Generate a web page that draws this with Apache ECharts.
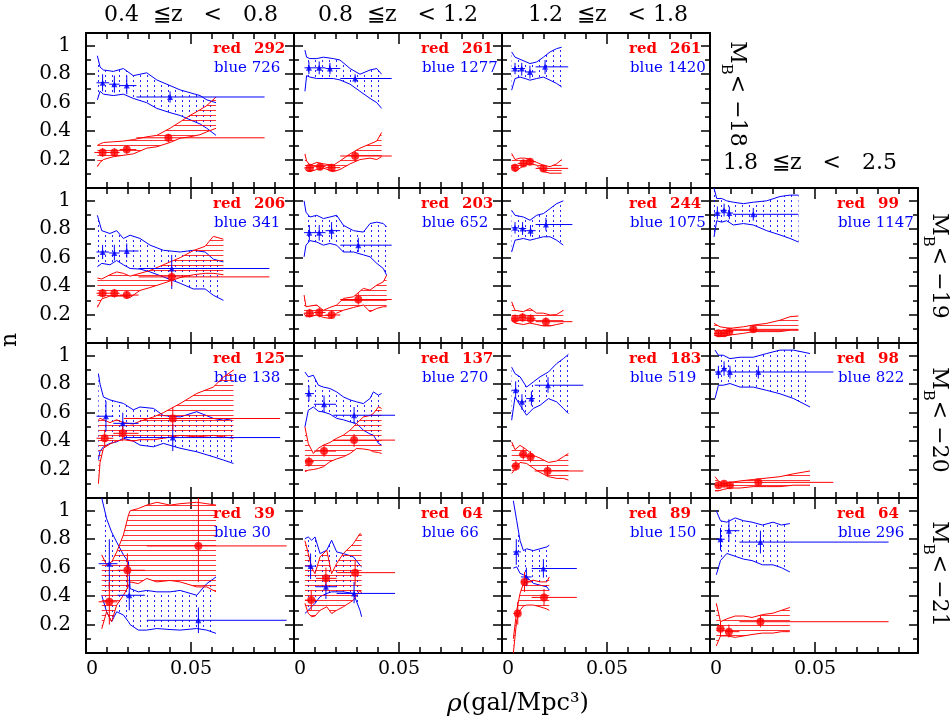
<!DOCTYPE html>
<html><head><meta charset="utf-8">
<script src="https://cdn.jsdelivr.net/npm/echarts@6/dist/echarts.min.js"></script>
<style>html,body{margin:0;padding:0;background:#fff}#c{width:950px;height:718px}</style>
</head><body><div id="c"></div>
<script>
// ---------------- labels ----------------
const Z_LABELS = ['0.4  \u2266z   <   0.8', '0.8  \u2266z   < 1.2', '1.2  \u2266z   < 1.8', '1.8  \u2266z   <   2.5'];
const MAG_LABELS = ['\u221218', '\u221219', '\u221220', '\u221221'];
const X_TICK_LABELS = ['0', '0.05'];
const RED_COUNTS  = [[292, 261, 261, null], [206, 203, 244, 99], [125, 137, 183, 98], [39, 64, 89, 64]];
const BLUE_COUNTS = [[726, 1277, 1420, null], [341, 652, 1075, 1147], [138, 270, 519, 822], [30, 66, 150, 296]];

// ---------------- bands: [x, lower, upper] ----------------
const BLUE_BAND_R1C1 = [[0.0054,0.62,0.93],[0.0067,0.68,0.85],[0.0083,0.66,0.83],[0.0130,0.65,0.82],[0.0178,0.66,0.84],[0.0225,0.63,0.79],[0.0289,0.60,0.81],[0.0337,0.56,0.76],[0.0400,0.53,0.72],[0.0448,0.51,0.69],[0.0495,0.48,0.67],[0.0543,0.45,0.65],[0.0575,0.42,0.62],[0.0619,0.37,0.60]];
const RED_BAND_R1C1  = [[0.0054,0.15,0.30],[0.0067,0.18,0.31],[0.0083,0.20,0.32],[0.0130,0.22,0.325],[0.0178,0.23,0.33],[0.0225,0.24,0.34],[0.0289,0.28,0.36],[0.0337,0.29,0.37],[0.0400,0.32,0.42],[0.0448,0.35,0.465],[0.0495,0.36,0.51],[0.0543,0.375,0.55],[0.0575,0.395,0.58],[0.0619,0.42,0.64]];
const BLUE_BAND_R1C2 = [[0.0052,0.68,0.97],[0.0060,0.79,0.92],[0.0076,0.78,0.91],[0.0108,0.77,0.91],[0.0140,0.77,0.92],[0.0187,0.77,0.91],[0.0219,0.76,0.90],[0.0267,0.73,0.84],[0.0314,0.68,0.80],[0.0362,0.63,0.83],[0.0394,0.60,0.84],[0.0417,0.56,0.80]];
const RED_BAND_R1C2  = [[0.0052,0.14,0.24],[0.0060,0.12,0.19],[0.0076,0.115,0.16],[0.0108,0.13,0.18],[0.0140,0.14,0.17],[0.0187,0.115,0.16],[0.0219,0.13,0.19],[0.0267,0.17,0.24],[0.0314,0.20,0.28],[0.0362,0.21,0.31],[0.0394,0.20,0.33],[0.0417,0.22,0.39]];
const BLUE_BAND_R1C3 = [[0.0046,0.688,0.957],[0.0062,0.77,0.92],[0.0086,0.78,0.905],[0.0110,0.77,0.89],[0.0133,0.758,0.875],[0.0165,0.77,0.886],[0.0197,0.78,0.92],[0.0229,0.758,0.957],[0.0260,0.735,0.98],[0.0284,0.711,0.99]];
const RED_BAND_R1C3  = [[0.0046,0.16,0.243],[0.0062,0.115,0.20],[0.0086,0.14,0.21],[0.0110,0.16,0.21],[0.0133,0.172,0.20],[0.0165,0.16,0.18],[0.0197,0.115,0.16],[0.0229,0.104,0.15],[0.0260,0.104,0.17],[0.0284,0.104,0.20]];

const BLUE_BAND_R2C1 = [[0.0054,0.536,0.898],[0.0075,0.56,0.79],[0.0114,0.55,0.77],[0.0146,0.58,0.79],[0.0178,0.55,0.735],[0.0210,0.524,0.758],[0.0257,0.52,0.735],[0.0305,0.50,0.688],[0.0368,0.465,0.652],[0.0448,0.42,0.64],[0.0511,0.38,0.652],[0.0567,0.38,0.64],[0.0606,0.336,0.59],[0.0654,0.30,0.57]];
const RED_BAND_R2C1  = [[0.0054,0.25,0.457],[0.0075,0.31,0.45],[0.0114,0.33,0.48],[0.0146,0.33,0.50],[0.0178,0.33,0.49],[0.0210,0.32,0.47],[0.0257,0.37,0.49],[0.0305,0.39,0.51],[0.0368,0.42,0.55],[0.0448,0.46,0.60],[0.0511,0.48,0.65],[0.0567,0.49,0.68],[0.0606,0.49,0.75],[0.0654,0.48,0.73]];
const BLUE_BAND_R2C2 = [[0.0048,0.606,1.0],[0.0057,0.688,0.92],[0.0076,0.72,0.886],[0.0108,0.71,0.898],[0.0140,0.688,0.875],[0.0171,0.70,0.886],[0.0203,0.688,0.898],[0.0235,0.64,0.828],[0.0283,0.64,0.79],[0.0330,0.62,0.78],[0.0362,0.606,0.84],[0.0394,0.56,0.85],[0.0425,0.524,0.84],[0.0441,0.477,0.816]];
const RED_BAND_R2C2  = [[0.0048,0.21,0.337],[0.0057,0.185,0.255],[0.0076,0.185,0.26],[0.0108,0.197,0.267],[0.0140,0.18,0.23],[0.0171,0.173,0.25],[0.0203,0.21,0.267],[0.0235,0.23,0.313],[0.0283,0.25,0.325],[0.0330,0.267,0.384],[0.0362,0.22,0.372],[0.0394,0.243,0.407],[0.0425,0.255,0.43],[0.0441,0.255,0.477]];
const BLUE_BAND_R2C3 = [[0.0046,0.64,0.933],[0.0062,0.723,0.898],[0.0102,0.735,0.886],[0.0133,0.723,0.863],[0.0165,0.735,0.898],[0.0197,0.747,0.91],[0.0229,0.747,0.945],[0.0260,0.723,0.98],[0.0292,0.688,1.0]];
const RED_BAND_R2C3  = [[0.0046,0.16,0.29],[0.0062,0.14,0.23],[0.0102,0.13,0.22],[0.0133,0.14,0.243],[0.0165,0.13,0.21],[0.0197,0.12,0.21],[0.0229,0.12,0.197],[0.0260,0.13,0.20],[0.0292,0.14,0.23]];
const BLUE_BAND_R2C4 = [[0.0019,0.746,1.09],[0.0032,0.86,1.016],[0.0056,0.85,1.016],[0.0079,0.86,1.0],[0.0111,0.83,0.99],[0.0159,0.84,0.98],[0.0206,0.83,0.99],[0.0270,0.79,1.0],[0.0333,0.76,1.03],[0.0381,0.735,1.04],[0.0421,0.71,1.04]];
const RED_BAND_R2C4  = [[0.0019,0.056,0.138],[0.0048,0.044,0.114],[0.0095,0.056,0.103],[0.0159,0.068,0.114],[0.0206,0.08,0.126],[0.0270,0.08,0.138],[0.0333,0.08,0.16],[0.0381,0.09,0.185],[0.0421,0.09,0.19]];

const BLUE_BAND_R3C1 = [[0.0059,0.27,0.875],[0.0067,0.33,0.80],[0.0083,0.36,0.71],[0.0114,0.384,0.69],[0.0146,0.395,0.677],[0.0178,0.42,0.665],[0.0225,0.40,0.62],[0.0257,0.372,0.64],[0.0321,0.36,0.63],[0.0368,0.384,0.58],[0.0448,0.35,0.57],[0.0527,0.325,0.607],[0.0606,0.29,0.56],[0.0654,0.267,0.547],[0.0702,0.243,0.56]];
const RED_BAND_R3C1  = [[0.0059,0.10,0.55],[0.0067,0.25,0.56],[0.0083,0.35,0.55],[0.0114,0.38,0.53],[0.0146,0.40,0.55],[0.0178,0.41,0.53],[0.0225,0.40,0.52],[0.0257,0.41,0.54],[0.0321,0.41,0.57],[0.0368,0.42,0.60],[0.0448,0.44,0.664],[0.0527,0.43,0.735],[0.0606,0.44,0.78],[0.0654,0.43,0.85],[0.0702,0.42,0.90]];
const BLUE_BAND_R3C2 = [[0.0052,0.50,0.886],[0.0068,0.617,0.852],[0.0092,0.64,0.863],[0.0116,0.61,0.793],[0.0140,0.605,0.78],[0.0171,0.59,0.77],[0.0203,0.56,0.746],[0.0235,0.55,0.711],[0.0267,0.535,0.69],[0.0298,0.524,0.676],[0.0330,0.477,0.664],[0.0362,0.45,0.70],[0.0378,0.442,0.746],[0.0402,0.384,0.723],[0.0417,0.372,0.735]];
const RED_BAND_R3C2  = [[0.0052,0.185,0.50],[0.0068,0.196,0.383],[0.0092,0.20,0.313],[0.0116,0.208,0.35],[0.0140,0.22,0.372],[0.0171,0.255,0.39],[0.0203,0.275,0.42],[0.0235,0.29,0.442],[0.0267,0.313,0.477],[0.0298,0.348,0.524],[0.0330,0.345,0.57],[0.0362,0.337,0.58],[0.0378,0.325,0.594],[0.0402,0.32,0.641],[0.0417,0.313,0.63]];
const BLUE_BAND_R3C3 = [[0.0046,0.547,0.92],[0.0062,0.711,0.874],[0.0086,0.652,0.852],[0.0117,0.582,0.78],[0.0149,0.63,0.816],[0.0181,0.652,0.852],[0.0221,0.699,0.886],[0.0260,0.676,0.945],[0.0292,0.63,0.98],[0.0316,0.594,1.01]];
const RED_BAND_R3C3  = [[0.0046,0.173,0.395],[0.0062,0.20,0.34],[0.0086,0.25,0.37],[0.0117,0.243,0.34],[0.0149,0.21,0.30],[0.0181,0.18,0.28],[0.0221,0.15,0.25],[0.0260,0.138,0.26],[0.0292,0.138,0.29],[0.0316,0.126,0.313]];
const BLUE_BAND_R3C4 = [[0.0024,0.70,1.04],[0.0040,0.793,1.004],[0.0063,0.793,1.004],[0.0095,0.805,0.98],[0.0143,0.78,0.99],[0.0206,0.78,0.99],[0.0270,0.757,1.016],[0.0333,0.733,1.04],[0.0397,0.70,1.04],[0.0476,0.64,1.016]];
const RED_BAND_R3C4  = [[0.0024,0.05,0.15],[0.0040,0.05,0.12],[0.0063,0.06,0.10],[0.0095,0.07,0.11],[0.0143,0.07,0.12],[0.0206,0.08,0.13],[0.0270,0.08,0.14],[0.0333,0.08,0.15],[0.0397,0.09,0.17],[0.0476,0.09,0.19]];

const BLUE_BAND_R4C1 = [[0.0075,0.406,1.09],[0.0098,0.29,0.945],[0.0122,0.22,0.85],[0.0146,0.29,0.78],[0.0178,0.267,0.69],[0.0202,0.22,0.64],[0.0210,0.20,0.453],[0.0249,0.161,0.43],[0.0289,0.161,0.44],[0.0337,0.172,0.43],[0.0400,0.165,0.43],[0.0448,0.161,0.44],[0.0527,0.172,0.406],[0.0575,0.161,0.488],[0.0619,0.138,0.535]];
const RED_BAND_R4C1  = [[0.0075,0.17,0.69],[0.0098,0.29,0.62],[0.0122,0.22,0.64],[0.0146,0.337,0.71],[0.0178,0.406,0.83],[0.0202,0.47,0.97],[0.0210,0.50,1.0],[0.0249,0.488,1.016],[0.0289,0.524,1.04],[0.0337,0.50,1.06],[0.0400,0.51,1.04],[0.0448,0.50,1.05],[0.0527,0.465,1.06],[0.0575,0.465,1.05],[0.0619,0.43,1.04]];
const BLUE_BAND_R4C2 = [[0.0052,0.278,0.804],[0.0068,0.30,0.816],[0.0084,0.325,0.793],[0.0100,0.349,0.816],[0.0124,0.396,0.699],[0.0156,0.419,0.723],[0.0179,0.43,0.793],[0.0203,0.43,0.711],[0.0235,0.43,0.699],[0.0283,0.419,0.676],[0.0314,0.30,0.617],[0.0322,0.255,0.606]];
const RED_BAND_R4C2  = [[0.0052,0.349,0.79],[0.0068,0.278,0.70],[0.0084,0.255,0.60],[0.0100,0.26,0.558],[0.0124,0.30,0.676],[0.0156,0.325,0.723],[0.0179,0.278,0.558],[0.0203,0.30,0.629],[0.0235,0.325,0.70],[0.0283,0.372,0.77],[0.0314,0.442,0.84],[0.0322,0.419,0.83]];
const BLUE_BAND_R4C3 = [[0.0054,0.597,1.07],[0.0070,0.606,0.93],[0.0086,0.56,0.79],[0.0102,0.55,0.72],[0.0117,0.535,0.733],[0.0149,0.49,0.72],[0.0181,0.477,0.733],[0.0213,0.465,0.746],[0.0225,0.442,0.758]];
const RED_BAND_R4C3  = [[0.0054,0.0,0.10],[0.0070,0.23,0.30],[0.0086,0.30,0.419],[0.0102,0.33,0.49],[0.0117,0.337,0.50],[0.0149,0.337,0.512],[0.0181,0.325,0.50],[0.0213,0.31,0.50],[0.0225,0.30,0.535]];
const BLUE_BAND_R4C4 = [[0.0030,0.55,1.0],[0.0050,0.65,0.93],[0.0080,0.70,0.92],[0.0120,0.68,0.95],[0.0160,0.66,0.93],[0.0200,0.65,0.92],[0.0250,0.62,0.90],[0.0300,0.62,0.92],[0.0340,0.60,0.90],[0.0380,0.57,0.91]];
const RED_BAND_R4C4  = [[0.0030,0.05,0.35],[0.0050,0.12,0.22],[0.0080,0.12,0.24],[0.0120,0.11,0.26],[0.0160,0.12,0.26],[0.0200,0.13,0.25],[0.0250,0.14,0.27],[0.0300,0.14,0.28],[0.0340,0.15,0.30],[0.0380,0.15,0.32]];

// ---------------- points: [x, y, xlo, xhi, ylo, yhi] ----------------
const BLUE_PTS_R1C1 = [[0.0079,0.74,0.005,0.011,0.68,0.80],[0.0135,0.73,0.011,0.016,0.67,0.79],[0.0194,0.72,0.016,0.024,0.66,0.79],[0.0400,0.64,0.024,0.085,0.60,0.68]];
const RED_PTS_R1C1  = [[0.0079,0.25,0.004,0.011,0.22,0.28],[0.0135,0.25,0.011,0.016,0.22,0.28],[0.0194,0.27,0.016,0.024,0.24,0.30],[0.0392,0.353,0.024,0.085,0.32,0.38]];
const BLUE_PTS_R1C2 = [[0.0071,0.845,0.005,0.0095,0.80,0.89],[0.0120,0.845,0.0095,0.015,0.80,0.89],[0.0171,0.84,0.015,0.022,0.80,0.88],[0.0291,0.77,0.022,0.0465,0.74,0.80]];
const RED_PTS_R1C2  = [[0.0076,0.143,0.005,0.0095,0.12,0.17],[0.0124,0.15,0.0095,0.015,0.125,0.175],[0.0179,0.143,0.015,0.022,0.12,0.17],[0.0291,0.225,0.022,0.0465,0.19,0.26]];
const BLUE_PTS_R1C3 = [[0.0062,0.84,0.0046,0.0075,0.80,0.88],[0.0094,0.84,0.0075,0.011,0.79,0.88],[0.0133,0.816,0.011,0.016,0.77,0.86],[0.0205,0.852,0.016,0.0315,0.80,0.90]];
const RED_PTS_R1C3  = [[0.0062,0.143,0.0046,0.0075,0.12,0.17],[0.0102,0.172,0.0075,0.012,0.15,0.20],[0.0133,0.185,0.012,0.016,0.16,0.21],[0.0197,0.138,0.016,0.0315,0.115,0.16]];
const BLUE_PTS_R2C1 = [[0.0079,0.64,0.005,0.011,0.59,0.69],[0.0135,0.633,0.011,0.016,0.58,0.69],[0.0194,0.647,0.016,0.025,0.60,0.70],[0.0408,0.524,0.025,0.0873,0.38,0.62]];
const RED_PTS_R2C1  = [[0.0079,0.35,0.005,0.011,0.32,0.38],[0.0135,0.35,0.011,0.016,0.32,0.38],[0.0194,0.337,0.016,0.025,0.31,0.37],[0.0408,0.465,0.025,0.0873,0.40,0.53]];
const BLUE_PTS_R2C2 = [[0.0073,0.776,0.0048,0.0095,0.72,0.83],[0.0120,0.776,0.0095,0.015,0.72,0.83],[0.0179,0.79,0.015,0.022,0.73,0.85],[0.0306,0.688,0.022,0.0465,0.64,0.74]];
const RED_PTS_R2C2  = [[0.0075,0.21,0.0048,0.0095,0.18,0.24],[0.0120,0.215,0.0095,0.015,0.18,0.25],[0.0179,0.197,0.015,0.022,0.17,0.23],[0.0306,0.306,0.022,0.0465,0.27,0.35]];
const BLUE_PTS_R2C3 = [[0.0062,0.81,0.0046,0.008,0.77,0.85],[0.0098,0.805,0.008,0.0115,0.76,0.85],[0.0136,0.79,0.0115,0.016,0.75,0.83],[0.0209,0.833,0.016,0.0335,0.79,0.88]];
const RED_PTS_R2C3  = [[0.0062,0.17,0.0046,0.008,0.14,0.20],[0.0098,0.18,0.008,0.0115,0.15,0.21],[0.0136,0.17,0.0115,0.016,0.14,0.20],[0.0209,0.15,0.016,0.0335,0.12,0.18]];
const BLUE_PTS_R2C4 = [[0.0035,0.914,0.0019,0.005,0.87,0.96],[0.0067,0.933,0.005,0.008,0.89,0.98],[0.0092,0.914,0.008,0.011,0.87,0.96],[0.0206,0.905,0.011,0.0421,0.86,0.95]];
const RED_PTS_R2C4  = [[0.0040,0.068,0.0019,0.005,0.05,0.09],[0.0067,0.068,0.005,0.008,0.05,0.09],[0.0092,0.08,0.008,0.011,0.06,0.10],[0.0206,0.096,0.011,0.0421,0.075,0.12]];
const BLUE_PTS_R3C1 = [[0.0095,0.575,0.005,0.013,0.47,0.68],[0.0175,0.525,0.013,0.025,0.45,0.60],[0.0413,0.425,0.018,0.0924,0.33,0.52]];
const RED_PTS_R3C1  = [[0.0089,0.42,0.005,0.013,0.36,0.48],[0.0175,0.455,0.013,0.025,0.40,0.51],[0.0413,0.559,0.018,0.0924,0.48,0.64]];
const BLUE_PTS_R3C2 = [[0.0071,0.734,0.0052,0.0095,0.68,0.79],[0.0143,0.659,0.0095,0.020,0.60,0.72],[0.0286,0.582,0.0187,0.0481,0.52,0.64]];
const RED_PTS_R3C2  = [[0.0071,0.255,0.0052,0.0095,0.22,0.29],[0.0143,0.33,0.0095,0.020,0.29,0.37],[0.0286,0.407,0.0187,0.0481,0.36,0.45]];
const BLUE_PTS_R3C3 = [[0.0065,0.758,0.0046,0.008,0.70,0.82],[0.0095,0.676,0.008,0.0115,0.62,0.73],[0.0140,0.699,0.0115,0.0156,0.65,0.75],[0.0219,0.793,0.0156,0.0387,0.74,0.85]];
const RED_PTS_R3C3  = [[0.0066,0.224,0.0046,0.008,0.19,0.26],[0.0101,0.308,0.008,0.0115,0.27,0.35],[0.0136,0.29,0.0115,0.0156,0.25,0.33],[0.0217,0.19,0.0156,0.0387,0.15,0.23]];
const BLUE_PTS_R3C4 = [[0.0040,0.886,0.0024,0.0055,0.84,0.93],[0.0067,0.91,0.0055,0.008,0.86,0.96],[0.0095,0.886,0.008,0.011,0.84,0.93],[0.0230,0.886,0.011,0.0587,0.84,0.93]];
const RED_PTS_R3C4  = [[0.0040,0.09,0.0024,0.0055,0.07,0.11],[0.0067,0.10,0.0055,0.008,0.08,0.12],[0.0095,0.09,0.008,0.011,0.07,0.11],[0.0230,0.11,0.011,0.0587,0.09,0.13]];
const BLUE_PTS_R4C1 = [[0.0111,0.628,0.006,0.015,0.45,0.80],[0.0206,0.406,0.015,0.028,0.30,0.52],[0.0535,0.23,0.0289,0.0955,0.14,0.32]];
const RED_PTS_R4C1  = [[0.0111,0.36,0.006,0.015,0.20,0.50],[0.0197,0.582,0.015,0.028,0.45,0.70],[0.0535,0.753,0.0289,0.0955,0.50,1.09]];
const BLUE_PTS_R4C2 = [[0.0079,0.611,0.0052,0.0105,0.52,0.70],[0.0152,0.466,0.0105,0.0203,0.38,0.55],[0.0286,0.419,0.0203,0.0481,0.35,0.50]];
const RED_PTS_R4C2  = [[0.0082,0.372,0.0052,0.0105,0.30,0.44],[0.0152,0.525,0.0105,0.0203,0.45,0.60],[0.0291,0.565,0.0203,0.0481,0.48,0.65]];
const BLUE_PTS_R4C3 = [[0.0068,0.711,0.0054,0.009,0.62,0.80],[0.0116,0.535,0.009,0.0141,0.47,0.60],[0.0197,0.594,0.0141,0.0356,0.53,0.66]];
const RED_PTS_R4C3  = [[0.0075,0.278,0.0054,0.009,0.20,0.36],[0.0107,0.50,0.009,0.0141,0.43,0.57],[0.0200,0.391,0.0141,0.0356,0.33,0.45]];
const BLUE_PTS_R4C4 = [[0.0050,0.80,0.003,0.007,0.72,0.88],[0.0090,0.86,0.007,0.014,0.78,0.94],[0.0240,0.78,0.014,0.085,0.70,0.86]];
const RED_PTS_R4C4  = [[0.0050,0.17,0.003,0.007,0.12,0.22],[0.0090,0.15,0.007,0.014,0.11,0.20],[0.0240,0.22,0.014,0.085,0.18,0.26]];

const PANEL_DATA = {
  R1C1:[BLUE_BAND_R1C1,RED_BAND_R1C1,BLUE_PTS_R1C1,RED_PTS_R1C1],
  R1C2:[BLUE_BAND_R1C2,RED_BAND_R1C2,BLUE_PTS_R1C2,RED_PTS_R1C2],
  R1C3:[BLUE_BAND_R1C3,RED_BAND_R1C3,BLUE_PTS_R1C3,RED_PTS_R1C3],
  R2C1:[BLUE_BAND_R2C1,RED_BAND_R2C1,BLUE_PTS_R2C1,RED_PTS_R2C1],
  R2C2:[BLUE_BAND_R2C2,RED_BAND_R2C2,BLUE_PTS_R2C2,RED_PTS_R2C2],
  R2C3:[BLUE_BAND_R2C3,RED_BAND_R2C3,BLUE_PTS_R2C3,RED_PTS_R2C3],
  R2C4:[BLUE_BAND_R2C4,RED_BAND_R2C4,BLUE_PTS_R2C4,RED_PTS_R2C4],
  R3C1:[BLUE_BAND_R3C1,RED_BAND_R3C1,BLUE_PTS_R3C1,RED_PTS_R3C1],
  R3C2:[BLUE_BAND_R3C2,RED_BAND_R3C2,BLUE_PTS_R3C2,RED_PTS_R3C2],
  R3C3:[BLUE_BAND_R3C3,RED_BAND_R3C3,BLUE_PTS_R3C3,RED_PTS_R3C3],
  R3C4:[BLUE_BAND_R3C4,RED_BAND_R3C4,BLUE_PTS_R3C4,RED_PTS_R3C4],
  R4C1:[BLUE_BAND_R4C1,RED_BAND_R4C1,BLUE_PTS_R4C1,RED_PTS_R4C1],
  R4C2:[BLUE_BAND_R4C2,RED_BAND_R4C2,BLUE_PTS_R4C2,RED_PTS_R4C2],
  R4C3:[BLUE_BAND_R4C3,RED_BAND_R4C3,BLUE_PTS_R4C3,RED_PTS_R4C3],
  R4C4:[BLUE_BAND_R4C4,RED_BAND_R4C4,BLUE_PTS_R4C4,RED_PTS_R4C4]
};

// ---------------- layout ----------------
const COL_LEFT = [86, 294, 502, 710], ROW_TOP = [33, 188, 343, 498], PW = 208, PH = 155;
const XMAX = 0.099, YMAX = 1.09;
const FONT = 'DejaVu Serif';
const RED = '#ff0000', BLUE = '#0000ff';

function makePattern(kind) {
  const cv = document.createElement('canvas');
  const g = cv.getContext('2d');
  if (kind === 'red') { cv.width = 6; cv.height = 5; g.fillStyle = 'rgba(255,0,0,0.8)'; g.fillRect(0, 0, 6, 1); }
  else { cv.width = 7; cv.height = 5; g.fillStyle = 'rgba(0,0,255,0.85)'; g.fillRect(0, 0, 1, 2); }
  return { image: cv, repeat: 'repeat' };
}
const RED_FILL = makePattern('red'), BLUE_FILL = makePattern('blue');

const grids = [], xAxes = [], yAxes = [], series = [], graphics = [];
function tickAxis(kind, gi, pos, major, showLabel) {
  const isX = kind === 'x';
  const a = {
    type: 'value', gridIndex: gi, min: 0, max: isX ? XMAX : YMAX, position: pos,
    interval: isX ? (major ? 0.05 : 0.01) : (major ? 0.2 : 0.1),
    splitLine: { show: false },
    axisLine: { show: major, onZero: false, lineStyle: { color: '#000', width: 2 } },
    axisTick: { show: true, inside: true, length: major ? (isX ? 11 : 9) : (isX ? 6 : 5), lineStyle: { color: '#000', width: 1.5 } },
    axisLabel: { show: false }
  };
  if (showLabel) {
    a.axisLabel = isX ? {
      show: true, color: '#000', fontFamily: FONT, fontSize: 19, margin: 7,
      showMaxLabel: false, alignMinLabel: 'left',
      formatter: v => (v === 0 ? X_TICK_LABELS[0] : (Math.abs(v - 0.05) < 1e-9 ? X_TICK_LABELS[1] : ''))
    } : {
      show: true, color: '#000', fontFamily: FONT, fontSize: 20, margin: 15,
      showMaxLabel: false, showMinLabel: false,
      formatter: v => (v === 0 ? '' : (Math.abs(v - 1) < 1e-9 ? '1' : v.toFixed(1)))
    };
  }
  return a;
}

let gi = 0;
for (let r = 0; r < 4; r++) {
  for (let c = 0; c < 4; c++) {
    const key = 'R' + (r + 1) + 'C' + (c + 1);
    if (!PANEL_DATA[key]) continue;
    grids.push({ left: COL_LEFT[c], top: ROW_TOP[r], width: PW, height: PH, containLabel: false });
    const xi = xAxes.length, yi = yAxes.length;
    xAxes.push(tickAxis('x', gi, 'bottom', true, r === 3), tickAxis('x', gi, 'bottom', false, false),
               tickAxis('x', gi, 'top', true, false), tickAxis('x', gi, 'top', false, false));
    yAxes.push(tickAxis('y', gi, 'left', true, c === 0), tickAxis('y', gi, 'left', false, false),
               tickAxis('y', gi, 'right', true, false), tickAxis('y', gi, 'right', false, false));
    const [bBand, rBand, bPts, rPts] = PANEL_DATA[key];
    const bandSeries = (band, fill, color) => ({
      type: 'custom', xAxisIndex: xi, yAxisIndex: yi, silent: true, animation: false,
      data: [[band[0][0], band[0][1]]],
      renderItem: (p, api) => {
        const up = band.map(d => api.coord([d[0], d[2]]));
        const lo = band.map(d => api.coord([d[0], d[1]]));
        const poly = up.concat(lo.slice().reverse());
        return { type: 'group', children: [
          { type: 'polygon', shape: { points: poly }, style: { fill: fill, stroke: null } },
          { type: 'polyline', shape: { points: up }, style: { stroke: color, lineWidth: 1, fill: null } },
          { type: 'polyline', shape: { points: lo }, style: { stroke: color, lineWidth: 1, fill: null } }
        ] };
      }
    });
    const errSeries = (pts, color) => ({
      type: 'custom', xAxisIndex: xi, yAxisIndex: yi, silent: true, animation: false,
      data: pts, encode: { x: 0, y: 1 },
      renderItem: (p, api) => {
        const x = api.value(0), y = api.value(1);
        const a = api.coord([api.value(2), y]), b = api.coord([api.value(3), y]);
        const cc = api.coord([x, api.value(4)]), d = api.coord([x, api.value(5)]);
        return { type: 'group', children: [
          { type: 'line', shape: { x1: a[0], y1: a[1], x2: b[0], y2: b[1] }, style: { stroke: color, lineWidth: 1 } },
          { type: 'line', shape: { x1: cc[0], y1: cc[1], x2: d[0], y2: d[1] }, style: { stroke: color, lineWidth: 1 } }
        ] };
      }
    });
    series.push(bandSeries(bBand, BLUE_FILL, BLUE), bandSeries(rBand, RED_FILL, RED));
    series.push(errSeries(bPts, BLUE), errSeries(rPts, RED));
    series.push({ type: 'scatter', xAxisIndex: xi, yAxisIndex: yi, silent: true, animation: false,
      symbol: 'triangle', symbolSize: 6, itemStyle: { color: BLUE }, data: bPts.map(p => [p[0], p[1]]) });
    series.push({ type: 'scatter', xAxisIndex: xi, yAxisIndex: yi, silent: true, animation: false,
      symbol: 'circle', symbolSize: 8, itemStyle: { color: RED }, data: rPts.map(p => [p[0], p[1]]) });
    const L = COL_LEFT[c], T = ROW_TOP[r];
    graphics.push({ type: 'text', x: L + 127, y: T + 16, style: { text: 'red', fill: RED, font: 'bold 15px ' + FONT, textVerticalAlign: 'middle' } });
    graphics.push({ type: 'text', x: L + 168, y: T + 16, style: { text: String(RED_COUNTS[r][c]), fill: RED, font: 'bold 15px ' + FONT, textVerticalAlign: 'middle' } });
    graphics.push({ type: 'text', x: L + 128, y: T + 35, style: { text: 'blue ' + BLUE_COUNTS[r][c], fill: BLUE, font: '15px ' + FONT, textVerticalAlign: 'middle' } });
    gi++;
  }
}

// column titles
const TITLE_POS = [[191, 15], [398, 15], [608, 15], [810, 163]];
Z_LABELS.forEach((t, i) => graphics.push({ type: 'text', x: TITLE_POS[i][0], y: TITLE_POS[i][1],
  style: { text: t, fill: '#000', font: '22px ' + FONT, textAlign: 'center', textVerticalAlign: 'middle' } }));
// row labels (rotated, reading downward, with subscript B)
const ROW_LABEL_POS = [[733, 94], [935, 266], [935, 420], [935, 574]];
MAG_LABELS.forEach((t, i) => graphics.push({ type: 'text', x: ROW_LABEL_POS[i][0], y: ROW_LABEL_POS[i][1], rotation: -Math.PI / 2,
  style: { text: '{m|M}{s|B}{m|< ' + t + '}', textAlign: 'center', textVerticalAlign: 'middle', fill: '#000',
    rich: { m: { fontSize: 22, fontFamily: FONT, lineHeight: 30, verticalAlign: 'top' },
            s: { fontSize: 15, fontFamily: FONT, lineHeight: 30, verticalAlign: 'bottom' } } } }));
// axis titles
graphics.push({ type: 'text', x: 10, y: 340, rotation: Math.PI / 2,
  style: { text: 'n', fill: '#000', font: '22px ' + FONT, textAlign: 'center', textVerticalAlign: 'middle' } });
graphics.push({ type: 'text', x: 518, y: 704,
  style: { text: '{i|\u03c1}{n|(gal/Mpc\u00b3)}', textAlign: 'center', textVerticalAlign: 'middle', fill: '#000',
    rich: { i: { fontSize: 25, fontFamily: FONT, fontStyle: 'italic' }, n: { fontSize: 24, fontFamily: FONT } } } });

const chart = echarts.init(document.getElementById('c'), null, { renderer: 'canvas' });
chart.setOption({
  animation: false, backgroundColor: '#fff',
  grid: grids, xAxis: xAxes, yAxis: yAxes, series: series, graphic: graphics
});
</script></body></html>
